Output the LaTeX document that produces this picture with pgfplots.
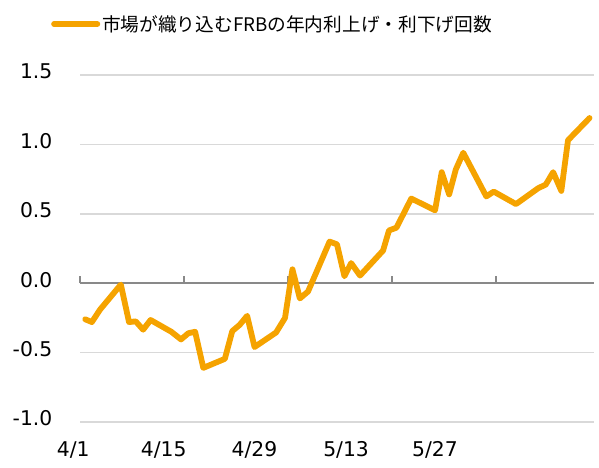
\documentclass[border=0pt]{standalone}
\usepackage{pgfplots}
\pgfplotsset{compat=1.18}
\usepackage{fontspec}
\setmainfont{DejaVu Sans}
\newfontfamily\cjk{Noto Sans CJK JP}
\definecolor{lineor}{RGB}{245,163,0}
\definecolor{gridc}{RGB}{217,217,217}
\definecolor{zeroc}{RGB}{137,137,137}

\pgfplotstableread{
x y
0.7 -0.26
1.6 -0.28
2.7 -0.19
5.5 -0.01
6.6 -0.28
7.5 -0.275
8.5 -0.335
9.5 -0.265
12.3 -0.35
13.6 -0.405
14.6 -0.36
15.5 -0.35
16.6 -0.61
19.5 -0.545
20.5 -0.345
21.5 -0.30
22.5 -0.235
23.5 -0.46
26.4 -0.355
27.6 -0.25
28.6 0.10
29.6 -0.11
30.7 -0.06
33.6 0.30
34.6 0.28
35.6 0.05
36.5 0.145
37.7 0.055
40.8 0.235
41.6 0.38
42.6 0.40
44.6 0.61
47.8 0.525
48.7 0.80
49.7 0.64
50.6 0.82
51.6 0.94
54.7 0.625
55.7 0.66
58.7 0.57
61.7 0.685
62.7 0.71
63.7 0.80
64.8 0.665
65.7 1.03
68.6 1.19
}\datatable

\newcommand{\shl}[2]{\makebox[0pt][c]{\hspace*{#1}#2}}

\begin{document}
\begin{tikzpicture}
\begin{axis}[scale only axis,
  width=514pt, height=347pt,
  xmin=0, xmax=69.2, ymin=-1, ymax=1.5,
  axis line style={draw=none},
  xtick={0,14,28,42,56},
  xticklabels={\shl{-13.4pt}{4/1},\shl{-40.6pt}{4/15},\shl{-67pt}{4/29},\shl{-91.8pt}{5/13},\shl{-122pt}{5/27}},
  xtick pos=bottom,
  ytick={-1,-0.5,0,0.5,1,1.5},
  yticklabels={-1.0,-0.5,0.0,0.5,1.0,1.5},
  ytick pos=left,
  extra y ticks={0},
  extra y tick labels={},
  extra y tick style={grid style={zeroc, line width=1.5pt}},
  major tick length=7pt,
  tick align=center,
  x tick style={zeroc, line width=1.5pt, yshift=142.3pt},
  y tick style={draw=none},
  ymajorgrids, grid style={gridc, line width=1.5pt},
  yticklabel style={anchor=east, inner sep=0pt, xshift=-24pt, yshift=3.5pt,
    font=\fontsize{20.3}{22}\selectfont},
  xticklabel style={anchor=base, inner sep=0pt, yshift=-31pt,
    font=\fontsize{20.3}{22}\selectfont},
  clip=false,
  legend style={draw=none, fill=none, at={(axis description cs:0,1)},
    anchor=west, xshift=-29pt, yshift=51pt, inner sep=0pt,
    font=\cjk\fontsize{18.7}{20}\selectfont,
    nodes={inner sep=2pt},
    /tikz/every even column/.append style={column sep=5pt}},
  legend image code/.code={\draw[lineor, line width=5.5pt, line cap=round] (2.75pt,0pt) -- (46.25pt,0pt);},
]
\addplot[lineor, line width=5.8pt, line join=round, line cap=round] table[x=x,y=y] {\datatable};
\addlegendentry{市場が織り込むFRBの年内利上げ・利下げ回数}
\end{axis}
\pgfresetboundingbox
\path[use as bounding box] (-80pt,-45pt) rectangle (519pt,422pt);
\end{tikzpicture}
\end{document}
